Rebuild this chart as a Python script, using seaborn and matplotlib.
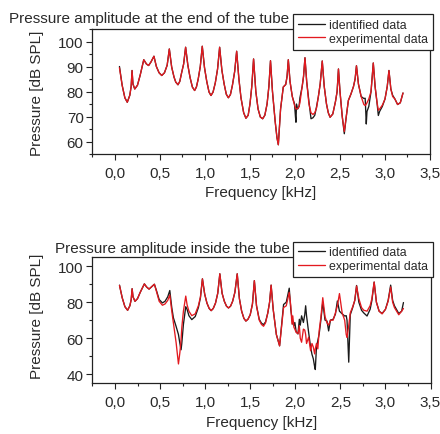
import matplotlib
matplotlib.use("Agg")
import matplotlib.pyplot as plt
import seaborn as sns
import pandas as pd
from matplotlib.ticker import MultipleLocator, FuncFormatter

# ---------------- data ----------------
freq_top = [
    0.05, 0.08, 0.11, 0.137, 0.165, 0.18, 0.19, 0.20, 0.22, 0.25, 0.28,
    0.32, 0.35, 0.374, 0.40, 0.433, 0.46, 0.49, 0.52, 0.55, 0.58,
    0.604, 0.63, 0.656, 0.675, 0.70, 0.72, 0.74, 0.763,
    0.785, 0.81, 0.835, 0.86, 0.885, 0.905, 0.925, 0.948,
    0.97, 0.995, 1.02, 1.045, 1.067, 1.09, 1.115, 1.14,
    1.163, 1.188, 1.213, 1.237, 1.26, 1.283, 1.305, 1.33,
    1.352, 1.377, 1.40, 1.43, 1.455, 1.48, 1.50, 1.52,
    1.54, 1.565, 1.59, 1.615, 1.641, 1.665, 1.69, 1.71,
    1.728, 1.75, 1.78, 1.80, 1.815, 1.84, 1.87, 1.897, 1.912,
    1.926, 1.945, 1.97, 1.995, 2.005, 2.011, 2.017, 2.03, 2.045, 2.055, 2.08, 2.095,
    2.111, 2.13, 2.155, 2.178, 2.2, 2.22, 2.24, 2.26, 2.28,
    2.303, 2.325, 2.35, 2.37, 2.39, 2.42, 2.45, 2.468,
    2.483, 2.5, 2.525, 2.548, 2.57, 2.593, 2.622, 2.65, 2.668,
    2.683, 2.705, 2.735, 2.765, 2.78, 2.786, 2.792, 2.80, 2.82, 2.845,
    2.87, 2.89, 2.91, 2.926, 2.94, 2.97, 3.0, 3.025,
    3.044, 3.065, 3.085, 3.11, 3.14, 3.17, 3.2,
]
ident_top = [
    90, 82.5, 77.5, 75.7, 78.5, 82, 88.4, 83, 81, 82.5, 86.5,
    92.7, 91, 90.4, 91.8, 94.1, 90, 87.5, 86.4, 87.5, 90.5,
    97, 89.8, 85.8, 83.8, 82.7, 84, 87.4, 91,
    97.7, 90.5, 85.5, 81.8, 80.4, 81.8, 85, 90,
    98.1, 89.5, 84, 79.8, 78.4, 79.8, 83.5, 89,
    97.7, 88.5, 83, 78.9, 77.5, 78.8, 82.5, 88,
    96.1, 85, 77.5, 71.5, 69.3, 70.5, 75, 82,
    93, 80, 73, 69.8, 69.1, 70.5, 75, 82,
    92.3, 80, 68, 61.5, 58.7, 73, 81.8, 82.8, 86,
    92.7, 84, 78, 75, 70, 67.7, 75, 73, 74, 77.5, 82, 86,
    93.5, 84, 76, 69.1, 69.5, 70.5, 74, 78, 83,
    92.2, 82, 75, 71.5, 69.7, 71, 76, 80,
    89, 80, 70, 63.1, 70, 76.4, 79, 82, 85,
    90.3, 83, 78, 77.2, 77.3, 72, 67, 72, 74, 80,
    91.4, 82, 76, 70.4, 72, 74, 77, 82,
    88.4, 81, 78.5, 77, 74.8, 75.5, 79.4,
]
exp_top = [
    89.5, 82.5, 77.5, 75.7, 78.5, 82, 88.4, 83, 81, 82.5, 86.5,
    92.7, 91, 90.4, 91.8, 94.1, 90, 87.5, 86.4, 87.5, 90.5,
    97, 89.8, 85.8, 83.8, 82.7, 84, 87.4, 91,
    97.7, 90.5, 85.5, 81.8, 80.4, 81.8, 85, 90,
    98.1, 89.5, 84, 79.8, 78.4, 79.8, 83.5, 89,
    97.7, 88.5, 83, 78.9, 77.5, 78.8, 82.5, 88,
    96.1, 85, 77.5, 71.5, 69.3, 70.5, 75, 82,
    93, 80, 73, 69.8, 69.1, 70.5, 75, 82,
    92.3, 80, 68, 61.5, 58.7, 73, 81.8, 82.8, 86,
    92.7, 84, 78, 74.5, 73.5, 73, 73, 73.2, 74, 75.5, 82, 86,
    93.5, 84, 75, 71.5, 70.8, 71.5, 73.5, 78, 83,
    92.2, 82, 75, 71.5, 69.7, 71, 76, 80,
    89, 80, 70, 64, 70, 76.4, 79, 82, 85,
    90.3, 83, 78, 74.8, 74.4, 74.6, 75, 75.5, 77, 80,
    91.4, 82, 76, 72.5, 73, 74.5, 77, 82,
    88.4, 81, 78, 77, 74.8, 75.5, 79.4,
]

freq_bot = [
    0.05, 0.08, 0.11, 0.14, 0.165, 0.18, 0.19, 0.20, 0.222, 0.25, 0.28,
    0.326, 0.35, 0.378, 0.405, 0.437, 0.46, 0.49, 0.526, 0.555, 0.585,
    0.608, 0.63, 0.648, 0.678, 0.704, 0.72, 0.733, 0.741, 0.759,
    0.785, 0.80, 0.82, 0.852, 0.89, 0.925, 0.948,
    0.97, 0.995, 1.02, 1.045, 1.067, 1.09, 1.115, 1.14,
    1.163, 1.188, 1.213, 1.237, 1.259, 1.282, 1.305, 1.33,
    1.356, 1.38, 1.405, 1.43, 1.452, 1.475, 1.50, 1.525,
    1.546, 1.57, 1.60, 1.625, 1.648, 1.67, 1.695, 1.715,
    1.732, 1.755, 1.79, 1.826, 1.85, 1.87, 1.90,
    1.933, 1.95, 1.963, 1.972, 1.985, 1.995, 2.01, 2.03, 2.045, 2.055,
    2.07, 2.09, 2.105, 2.115, 2.125, 2.148, 2.17, 2.185, 2.2, 2.215,
    2.222, 2.235, 2.25, 2.265, 2.285,
    2.305, 2.33, 2.352, 2.37, 2.39, 2.42, 2.445, 2.467,
    2.49, 2.52, 2.548, 2.565, 2.574, 2.593, 2.61, 2.637, 2.66,
    2.68, 2.705, 2.735, 2.76, 2.796, 2.83, 2.85,
    2.875, 2.9, 2.93, 2.963, 3.0, 3.03,
    3.058, 3.08, 3.1, 3.148, 3.18, 3.2,
]
ident_bot = [
    89.5, 82.5, 77.5, 75.5, 78, 81.5, 87.5, 83, 80.5, 82, 85.5,
    90.2, 88.5, 87.3, 88.5, 90, 86.5, 81.5, 79.6, 80.5, 83,
    86.5, 77, 71.3, 66.5, 62, 57, 53.5, 57, 67.6,
    77.5, 76, 72.5, 70.3, 72, 77, 82.5,
    93, 84.5, 79.5, 76.5, 75.3, 76.5, 79.5, 85,
    95.8, 85, 80.5, 77.8, 76.8, 77.8, 80.5, 85.5,
    95.8, 82, 75, 71, 69.5, 70.5, 73, 79,
    92, 78, 70.5, 68.3, 67.5, 69, 74, 80,
    89.5, 76, 62, 55.7, 68, 78.7, 80,
    87.8, 76, 71.5, 68, 66.9, 68.7, 63.5, 62.3, 70.5, 67.2,
    72.4, 68.7, 73, 78, 72.4, 63.2, 55, 51, 48.5, 44,
    42.5, 55, 58.6, 62.3, 70.5,
    80, 70, 69.5, 64, 70, 70.5, 73.3, 80.7,
    75, 73.5, 72.3, 72.5, 70, 46.6, 73, 77, 81,
    89.3, 80, 75.5, 74, 72.3, 76, 81,
    91.2, 80, 75, 73.7, 76, 81,
    89.5, 81, 78, 73.7, 75, 79.8,
]
exp_bot = [
    89.3, 82.5, 77.5, 75.5, 78, 81.5, 87.5, 83, 80.5, 82, 85.5,
    90.2, 88.5, 87.3, 88.5, 90, 86, 80.5, 78.3, 79, 81,
    84, 75, 68.6, 57.5, 45.6, 52, 59, 65.8, 75,
    83.4, 78.5, 75, 72.5, 73.5, 78, 83,
    93, 84.5, 79.5, 76.5, 75.3, 76.5, 79.5, 85,
    95.8, 85, 80.5, 77.8, 76.8, 77.8, 80.5, 85.5,
    95.8, 82, 75, 71, 69.5, 70.5, 73, 79,
    92, 78, 70, 67.6, 66.6, 68.5, 74, 80,
    89.5, 76, 62, 55.7, 67, 77, 78,
    85.5, 78, 67.8, 72.4, 66, 65, 63.2, 62.5, 66.9, 60,
    57.7, 65, 64.5, 62, 57, 60.5, 53, 57, 55, 51.2,
    54, 57, 54, 64, 72,
    82.5, 72, 68.5, 67.2, 70, 70, 74, 78,
    84.8, 74, 70, 62, 60.4, 67, 74, 77.5, 81,
    89, 82, 77, 75.5, 75, 78, 82,
    91.2, 80, 75, 73.5, 76, 80.5,
    88.5, 80, 77, 73, 75, 76.5,
]

titles = ["Pressure amplitude at the end of the tube",
          "Pressure amplitude inside the tube"]
series_names = ["identified data", "experimental data"]
xlabel = "Frequency [kHz]"
ylabel = "Pressure [dB SPL]"

assert len(freq_top) == len(ident_top) == len(exp_top)
assert len(freq_bot) == len(ident_bot) == len(exp_bot)

# ---------------- style ----------------
sns.set_theme(style="ticks")
plt.rcParams["font.family"] = ["Liberation Sans", "DejaVu Sans"]

W, H = 440, 435
fig = plt.figure(figsize=(W / 100, H / 100), dpi=100)

def axes_px(left, right, top, bottom):
    return fig.add_axes([left / W, 1 - bottom / H, (right - left) / W, (bottom - top) / H])

ax_top = axes_px(92, 430, 30, 155)
ax_bot = axes_px(92, 430.5, 258.3, 384)

BLACK = "#1a1a1a"
RED = "#e3191f"
TXT = "#2a2a2a"

def draw(ax, f, ident, exp):
    df = pd.DataFrame({"f": f, "ident": ident, "exp": exp})
    sns.lineplot(data=df, x="f", y="ident", ax=ax, color=BLACK, lw=0.95,
                 label=series_names[0], estimator=None, sort=False)
    sns.lineplot(data=df, x="f", y="exp", ax=ax, color=RED, lw=0.95,
                 label=series_names[1], estimator=None, sort=False)

def fmt(v, p):
    if abs(v) < 1e-9:
        v = 0.0
    return f"{v:.1f}".replace(".", ",")

def style(ax, ylim, ymaj, ymin, ylab_y, xlab_y, title, title_xy, leg_top):
    ax.set_xlim(-0.255, 3.5)
    ax.set_ylim(*ylim)
    ax.xaxis.set_major_locator(MultipleLocator(0.5))
    ax.xaxis.set_minor_locator(MultipleLocator(0.25))
    ax.yaxis.set_major_locator(MultipleLocator(ymaj))
    ax.yaxis.set_minor_locator(MultipleLocator(ymin))
    ax.xaxis.set_major_formatter(FuncFormatter(fmt))
    ax.tick_params(which="both", direction="out", width=0.8, color="#222222",
                   top=False, right=False, bottom=True, left=True)
    ax.tick_params(which="major", length=4.5, labelsize=11, labelcolor=TXT)
    ax.tick_params(which="minor", length=2.5)
    ax.tick_params(axis="x", which="major", pad=4.5)
    ax.tick_params(axis="y", which="major", pad=1.5)
    for s in ax.spines.values():
        s.set_visible(True)
        s.set_color("#222222")
        s.set_linewidth(0.9)
    ax.set_xlabel(xlabel, fontsize=11, color=TXT)
    ax.set_ylabel(ylabel, fontsize=11, color=TXT)
    ax.yaxis.set_label_coords(-0.142, ylab_y)
    ax.xaxis.set_label_coords(0.5, xlab_y)
    fig.text(title_xy[0] / W, 1 - title_xy[1] / H, title, fontsize=11,
             color=TXT, ha="left", va="baseline")
    leg = ax.legend(loc="upper left", frameon=True, fancybox=False,
                    fontsize=8.9, handlelength=2.2, handletextpad=0.3,
                    borderpad=0.4, labelspacing=0.15, borderaxespad=0,
                    framealpha=1, edgecolor="#222222",
                    bbox_to_anchor=(293 / W, 1 - leg_top / H),
                    bbox_transform=fig.transFigure)
    leg.get_frame().set_linewidth(0.9)
    for t in leg.get_texts():
        t.set_color(TXT)
    leg.set_zorder(10)

draw(ax_top, freq_top, ident_top, exp_top)
draw(ax_bot, freq_bot, ident_bot, exp_bot)

style(ax_top, (55, 105), 10, 5, 0.49, -0.252, titles[0], (9, 23.3), 15)
style(ax_bot, (35, 105), 20, 10, 0.535, -0.256, titles[1], (55, 253.3), 242.5)

fig.savefig("out.png", dpi=100)
